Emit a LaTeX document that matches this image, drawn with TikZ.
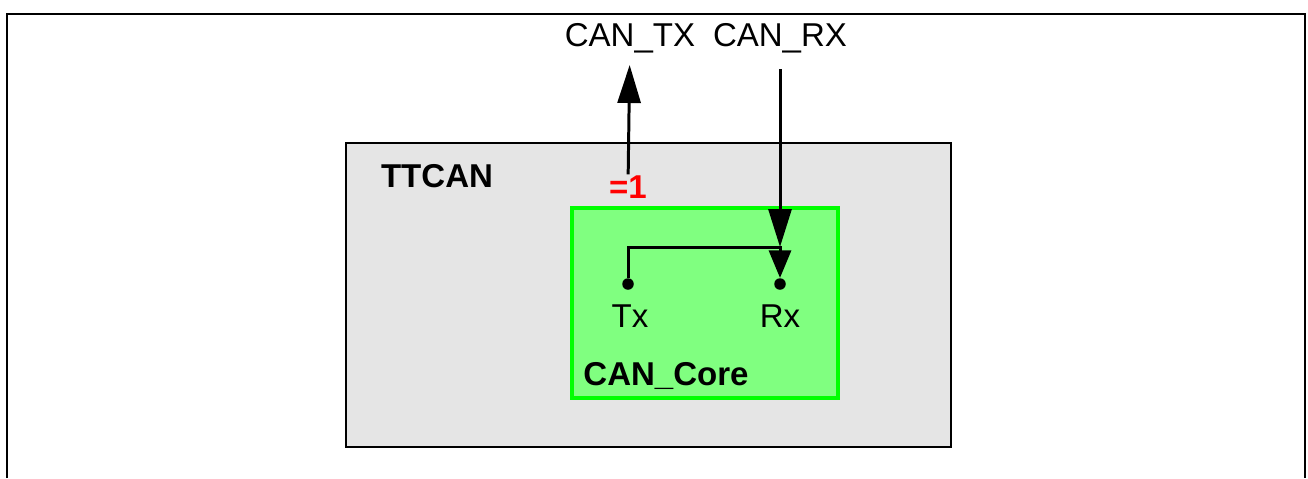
\documentclass[tikz,border=0pt]{standalone}
\usepackage{fontspec}
\setmainfont{Liberation Sans}
\usetikzlibrary{arrows.meta}

\definecolor{boxgray}{HTML}{E5E5E5}
\definecolor{coregreen}{HTML}{80FF80}
\definecolor{coreedge}{HTML}{00FF00}

\begin{document}
\begin{tikzpicture}[x=0.02cm, y=-0.02cm,
    every node/.style={font=\fontsize{18.8}{21}\selectfont},
    pin/.style={circle, fill=black, inner sep=0pt, minimum size=0.23cm}]
      \useasboundingbox (0,0) rectangle (1308,478);
      % frame and blocks
      \draw[line width=1.2pt] (7,478) -- (7,14) -- (1305,14) -- (1305,478);
      \draw[line width=1.4pt, fill=boxgray] (346,143) rectangle (951,447);
      \draw[line width=2.3pt, draw=coreedge, fill=coregreen] (572,208) rectangle (838,398);
      \begin{scope}
        \node (ttcan) at (437,176) {\bfseries TTCAN};
        \node (core) at (666,376) {\bfseries CAN\_Core};
        \node (eq1) at (628,187) {\color{red}\bfseries =1};
        \node (cantx) at (630,38) {CAN\_TX};
        \node (canrx) at (780,38) {CAN\_RX};
        \node (txlbl) at (630,316) {Tx};
        \node (rxlbl) at (780,316) {Rx};
      \end{scope}
      \begin{scope}
        \node[pin] (txpin) at (628,284) {};
        \node[pin] (rxpin) at (780,284) {};
        \coordinate (jn) at (780,247);
      \end{scope}
      \begin{scope}[>={Triangle[length=0.76cm, width=0.46cm]}, line width=1.7pt]
        \draw[->, shorten <=-0.1cm, shorten >=0.12cm] (eq1) -- (cantx);
        \draw[->, shorten <=0.2cm] (canrx) -- (jn);
        \draw[->, >={Triangle[length=0.55cm, width=0.44cm]}] (txpin) |- (jn) -- (rxpin);
      \end{scope}
    \end{tikzpicture}
\end{document}
